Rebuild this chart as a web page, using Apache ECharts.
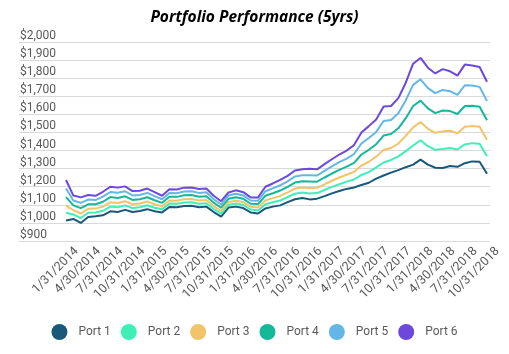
<!DOCTYPE html>
<html>
<head>
<meta charset="utf-8">
<script src="https://cdn.jsdelivr.net/npm/echarts@6/dist/echarts.min.js"></script>
<style>
	html, body { margin: 0; padding: 0; background: #fff; }
	#chart { width: 509px; height: 354px; }
</style>
</head>
<body>
<div id="chart"></div>
<script>
	// month-end dates, 1/2014 - 10/2018
	var dates = [
		'1/31/2014', '2/28/2014', '3/31/2014', '4/30/2014', '5/31/2014', '6/30/2014',
		'7/31/2014', '8/31/2014', '9/30/2014', '10/31/2014', '11/30/2014', '12/31/2014',
		'1/31/2015', '2/28/2015', '3/31/2015', '4/30/2015', '5/31/2015', '6/30/2015',
		'7/31/2015', '8/31/2015', '9/30/2015', '10/31/2015', '11/30/2015', '12/31/2015',
		'1/31/2016', '2/29/2016', '3/31/2016', '4/30/2016', '5/31/2016', '6/30/2016',
		'7/31/2016', '8/31/2016', '9/30/2016', '10/31/2016', '11/30/2016', '12/31/2016',
		'1/31/2017', '2/28/2017', '3/31/2017', '4/30/2017', '5/31/2017', '6/30/2017',
		'7/31/2017', '8/31/2017', '9/30/2017', '10/31/2017', '11/30/2017', '12/31/2017',
		'1/31/2018', '2/28/2018', '3/31/2018', '4/30/2018', '5/31/2018', '6/30/2018',
		'7/31/2018', '8/31/2018', '9/30/2018', '10/31/2018'
	];

	var port1 = [1013, 1022, 1000, 1033, 1037, 1042, 1064, 1060, 1072, 1060, 1066, 1076,
		1064, 1058, 1088, 1087, 1094, 1095, 1087, 1090, 1060, 1035, 1085, 1090,
		1082, 1058, 1052, 1080, 1090, 1097, 1115, 1131, 1138, 1130, 1134, 1148,
		1163, 1176, 1188, 1196, 1210, 1222, 1245, 1262, 1278, 1292, 1308, 1322,
		1350, 1322, 1305, 1304, 1315, 1310, 1330, 1340, 1338, 1272];
	var port2 = [1056, 1047, 1027, 1056, 1058, 1067, 1090, 1086, 1097, 1082, 1087, 1098,
		1084, 1075, 1107, 1106, 1113, 1114, 1106, 1109, 1077, 1051, 1101, 1107,
		1099, 1074, 1069, 1103, 1114, 1124, 1143, 1161, 1168, 1162, 1165, 1182,
		1199, 1214, 1228, 1240, 1265, 1281, 1307, 1334, 1348, 1368, 1397, 1428,
		1457, 1424, 1404, 1408, 1414, 1406, 1434, 1441, 1438, 1369];
	var port3 = [1096, 1070, 1052, 1078, 1079, 1090, 1114, 1110, 1120, 1103, 1107, 1118,
		1103, 1092, 1124, 1123, 1131, 1132, 1124, 1127, 1093, 1066, 1116, 1123,
		1115, 1089, 1085, 1124, 1137, 1149, 1169, 1190, 1196, 1193, 1194, 1213,
		1233, 1251, 1266, 1283, 1317, 1338, 1366, 1403, 1414, 1439, 1481, 1528,
		1558, 1520, 1498, 1506, 1509, 1496, 1532, 1536, 1532, 1460];
	var port4 = [1143, 1097, 1082, 1103, 1103, 1117, 1143, 1138, 1147, 1127, 1131, 1142,
		1125, 1111, 1145, 1144, 1153, 1154, 1145, 1148, 1112, 1084, 1133, 1142,
		1133, 1106, 1104, 1150, 1164, 1179, 1199, 1223, 1230, 1229, 1228, 1251,
		1273, 1293, 1311, 1332, 1378, 1404, 1435, 1483, 1491, 1523, 1579, 1646,
		1676, 1633, 1607, 1621, 1618, 1602, 1646, 1647, 1642, 1567];
	var port5 = [1190, 1124, 1111, 1129, 1126, 1145, 1171, 1167, 1175, 1152, 1154, 1166,
		1148, 1131, 1165, 1164, 1174, 1175, 1166, 1169, 1131, 1102, 1151, 1161,
		1152, 1124, 1122, 1175, 1191, 1208, 1230, 1257, 1263, 1264, 1262, 1288,
		1312, 1336, 1355, 1381, 1439, 1469, 1503, 1563, 1569, 1606, 1677, 1763,
		1794, 1745, 1717, 1735, 1728, 1708, 1761, 1759, 1752, 1673];
	var port6 = [1237, 1151, 1141, 1154, 1150, 1172, 1200, 1195, 1202, 1176, 1178, 1190,
		1170, 1150, 1186, 1185, 1195, 1196, 1187, 1190, 1150, 1120, 1168, 1180,
		1170, 1141, 1141, 1200, 1218, 1238, 1260, 1290, 1296, 1300, 1296, 1325,
		1352, 1378, 1400, 1430, 1500, 1535, 1572, 1643, 1646, 1690, 1775, 1880,
		1912, 1858, 1826, 1850, 1838, 1814, 1875, 1870, 1862, 1780];

	var names = ['Port 1', 'Port 2', 'Port 3', 'Port 4', 'Port 5', 'Port 6'];
	var colors = ['#19587a', '#3eefb8', '#f2c46a', '#15b899', '#62b7e6', '#6c48dc'];
	var values = [port1, port2, port3, port4, port5, port6];

	var series = [];
	names.forEach(function (name, i) {
		series.push({
			name: name,
			type: 'line',
			xAxisIndex: 1,
			yAxisIndex: 1,
			data: values[i],
			symbol: 'none',
			lineStyle: {width: 2, color: colors[i]},
			itemStyle: {color: colors[i]}
		});
	});

	var chart = echarts.init(document.getElementById('chart'));
	var option = {
		animation: false,
		title: {
			text: 'Portfolio Performance (5yrs)',
			left: 'center',
			top: 5,
			textStyle: {
				fontFamily: 'Open Sans',
				fontStyle: 'italic',
				fontWeight: 'bold',
				fontSize: 15.5,
				color: '#000'
			}
		},
		legend: {
			data: names,
			bottom: 9,
			left: 'center',
			icon: 'circle',
			itemWidth: 16,
			itemHeight: 16,
			itemGap: 10,
			textStyle: {fontFamily: 'Roboto', fontSize: 12, color: '#595959', padding: [0, 0, 0, 6]}
		},
		grid: [
			// gridlines + y labels across the whole width
			{left: 19, right: 19, top: 42, bottom: 113},
			// the lines themselves
			{left: 66, right: 22, top: 42, bottom: 113}
		],
		xAxis: [
			{gridIndex: 0, type: 'value', show: false},
			{
				gridIndex: 1,
				type: 'category',
				data: dates,
				boundaryGap: false,
				axisLine: {show: false},
				axisTick: {show: false},
				axisLabel: {
					interval: 2,
					rotate: 45,
					margin: 19,
					padding: [0, -15, 0, 0],
					fontFamily: 'Roboto',
					fontSize: 12.5,
					color: '#595959'
				}
			}
		],
		yAxis: [
			{
				gridIndex: 0,
				type: 'value',
				min: 900,
				max: 2000,
				interval: 100,
				axisLine: {show: false},
				axisTick: {show: false},
				splitLine: {lineStyle: {color: '#d9d9d9', width: 1}},
				axisLabel: {
					inside: true,
					margin: 1,
					verticalAlign: 'bottom',
					fontFamily: 'Roboto',
					fontSize: 12,
					color: '#595959',
					formatter: function (v) {
						return '$' + v.toLocaleString('en-US');
					}
				}
			},
			{gridIndex: 1, type: 'value', min: 900, max: 2000, show: false}
		],
		series: series
	};
	chart.setOption(option);
</script>
</body>
</html>
